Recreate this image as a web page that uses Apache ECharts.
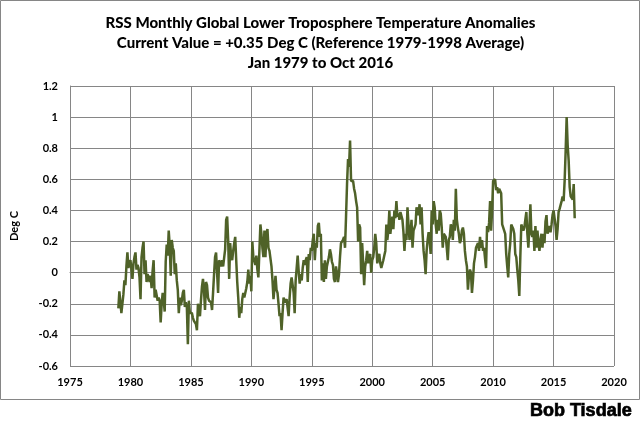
<!DOCTYPE html>
<html>
<head>
<meta charset="utf-8">
<script src="https://cdn.jsdelivr.net/npm/echarts@6/dist/echarts.min.js"></script>
<style>
html,body{margin:0;padding:0;background:#fff;}
#chart{width:641px;height:426px;}
</style>
</head>
<body>
<div id="chart"></div>
<script>
// Monthly RSS TLT anomalies (Deg C), Jan 1979 - Oct 2016
const v1979 = [-0.23, -0.12, -0.13, -0.26, -0.20, -0.14, -0.05, -0.08, 0.04, 0.13, 0.03, 0.06];
const v1980 = [0.08, 0.08, -0.04, 0.06, 0.10, 0.13, 0.02, 0.05, 0.03, -0.03, -0.17, 0.10];
const v1981 = [0.16, 0.20, -0.01, 0.08, -0.06, -0.01, -0.03, -0.06, -0.02, -0.10, 0.01, 0.08];
const v1982 = [-0.16, -0.11, -0.12, -0.18, -0.16, -0.18, -0.32, -0.20, -0.13, -0.18, -0.25, 0.07];
const v1983 = [0.18, 0.11, 0.27, 0.17, -0.02, 0.21, 0.16, 0.14, -0.01, 0.06, -0.05, -0.11];
const v1984 = [-0.26, -0.16, -0.21, -0.18, -0.13, -0.11, -0.22, -0.19, -0.22, -0.46, -0.18, -0.26];
const v1985 = [-0.25, -0.26, -0.29, -0.31, -0.32, -0.33, -0.37, -0.20, -0.21, -0.28, -0.18, -0.09];
const v1986 = [-0.04, -0.11, -0.24, -0.06, -0.08, -0.16, -0.18, -0.19, -0.19, -0.24, -0.13, -0.01];
const v1987 = [0.10, 0.13, 0.12, -0.13, 0.08, 0.06, 0.04, 0.08, 0.04, 0.03, 0.15, 0.34];
const v1988 = [0.36, 0.21, -0.04, 0.19, 0.10, 0.08, 0.14, 0.19, 0.23, 0.08, -0.06, -0.16];
const v1989 = [-0.29, -0.22, -0.26, -0.17, -0.13, -0.16, -0.15, -0.10, -0.06, 0.02, -0.07, -0.02];
const v1990 = [-0.12, 0.20, 0.10, 0.10, 0.05, 0.11, 0.02, -0.03, 0.14, 0.31, 0.25, 0.16];
const v1991 = [0.10, 0.27, 0.10, 0.25, 0.28, 0.16, 0.14, 0.14, 0.04, -0.05, -0.17, -0.16];
const v1992 = [-0.02, -0.11, -0.13, -0.20, -0.28, -0.26, -0.37, -0.26, -0.16, -0.19, -0.20, -0.17];
const v1993 = [-0.18, -0.28, -0.16, -0.07, -0.03, -0.02, -0.13, -0.26, -0.05, 0.03, 0.11, 0.01];
const v1994 = [-0.07, -0.01, -0.05, 0.03, 0.08, 0.05, 0.08, 0.10, -0.06, 0.12, 0.08, 0.16];
const v1995 = [0.14, 0.21, 0.25, 0.08, 0.19, 0.16, 0.30, 0.32, 0.23, 0.25, -0.05, 0.06];
const v1996 = [-0.06, 0.08, -0.04, 0.04, 0.03, 0.10, 0.15, 0.12, 0.07, 0.05, -0.04, -0.06];
const v1997 = [0.04, 0.00, -0.06, -0.01, 0.10, 0.19, 0.20, 0.21, 0.23, 0.16, 0.36, 0.57];
const v1998 = [0.73, 0.68, 0.85, 0.59, 0.60, 0.59, 0.54, 0.51, 0.46, 0.42, 0.20, 0.31];
const v1999 = [0.29, -0.01, 0.19, 0.06, -0.08, 0.04, 0.08, 0.14, 0.06, 0.10, 0.12, 0.00];
const v2000 = [0.08, 0.10, 0.16, 0.25, 0.19, 0.06, 0.10, 0.12, 0.06, 0.03, 0.04, 0.08];
const v2001 = [0.11, 0.14, 0.31, 0.21, 0.27, 0.40, 0.25, 0.31, 0.36, 0.28, 0.40, 0.35];
const v2002 = [0.46, 0.36, 0.38, 0.34, 0.39, 0.38, 0.34, 0.26, 0.14, 0.25, 0.21, 0.42];
const v2003 = [0.31, 0.21, 0.25, 0.34, 0.16, 0.27, 0.29, 0.31, 0.42, 0.43, 0.37, 0.44];
const v2004 = [0.31, 0.42, 0.25, 0.14, 0.08, -0.01, 0.14, 0.21, 0.26, 0.21, 0.12, 0.40];
const v2005 = [0.31, 0.46, 0.42, 0.31, 0.25, 0.34, 0.27, 0.40, 0.38, 0.29, 0.16, 0.25];
const v2006 = [0.25, 0.23, 0.16, 0.08, 0.21, 0.23, 0.31, 0.29, 0.21, 0.34, 0.27, 0.54];
const v2007 = [0.34, 0.29, 0.25, 0.19, 0.21, 0.27, 0.29, 0.25, 0.14, 0.08, 0.04, -0.11];
const v2008 = [-0.02, 0.02, 0.00, -0.13, -0.05, 0.06, 0.10, 0.16, 0.17, 0.19, 0.14, 0.23];
const v2009 = [0.16, 0.21, 0.14, 0.16, 0.09, 0.03, 0.30, 0.26, 0.32, 0.46, 0.27, 0.40];
const v2010 = [0.59, 0.58, 0.60, 0.53, 0.55, 0.51, 0.54, 0.54, 0.51, 0.31, 0.30, 0.27];
const v2011 = [0.25, 0.12, 0.04, -0.03, 0.12, 0.19, 0.31, 0.31, 0.28, 0.25, 0.12, 0.10];
const v2012 = [0.02, -0.05, -0.15, 0.10, 0.31, 0.29, 0.27, 0.29, 0.34, 0.39, 0.25, 0.16];
const v2013 = [0.29, 0.44, 0.25, 0.23, 0.27, 0.14, 0.30, 0.16, 0.27, 0.19, 0.14, 0.21];
const v2014 = [0.25, 0.16, 0.25, 0.19, 0.33, 0.37, 0.25, 0.26, 0.30, 0.26, 0.31, 0.37];
const v2015 = [0.40, 0.35, 0.30, 0.21, 0.28, 0.39, 0.41, 0.42, 0.46, 0.49, 0.46, 0.59];
const v2016 = [0.78, 1.00, 0.82, 0.72, 0.55, 0.49, 0.49, 0.47, 0.57, 0.35];

const startYear = 1979;
const titleLines = [
  'RSS Monthly Global Lower Troposphere Temperature Anomalies',
  'Current Value = +0.35 Deg C (Reference 1979-1998 Average)',
  'Jan 1979 to Oct 2016'
];
const yAxisName = 'Deg C';
const credit = 'Bob Tisdale';

const yearly = [v1979,v1980,v1981,v1982,v1983,v1984,v1985,v1986,v1987,v1988,v1989,
  v1990,v1991,v1992,v1993,v1994,v1995,v1996,v1997,v1998,v1999,v2000,v2001,v2002,
  v2003,v2004,v2005,v2006,v2007,v2008,v2009,v2010,v2011,v2012,v2013,v2014,v2015,v2016];
const monthly = [];
yearly.forEach((arr, yi) => arr.forEach((v, mi) => monthly.push([startYear + yi + mi / 12, v])));

const chart = echarts.init(document.getElementById('chart'), null, {renderer: 'canvas'});
const gridColor = '#868686';
chart.setOption({
  animation: false,
  backgroundColor: '#ffffff',
  title: {
    text: titleLines.join('\n'),
    left: 'center',
    top: 8,
    textStyle: {fontFamily: 'Lato', fontWeight: 900, fontSize: 15, lineHeight: 20, color: '#000'}
  },
  grid: {left: 70, right: 27, top: 86, bottom: 60},
  xAxis: {
    type: 'value', min: 1975, max: 2020, interval: 5,
    axisLine: {show: true, lineStyle: {color: gridColor, width: 1}},
    axisTick: {show: false},
    splitLine: {show: true, lineStyle: {color: gridColor, width: 1}},
    axisLabel: {color: '#000', fontFamily: 'Lato', fontWeight: 'bold', fontSize: 11, margin: 11,
      formatter: v => String(v)}
  },
  yAxis: {
    type: 'value', min: -0.6, max: 1.2, interval: 0.2,
    name: yAxisName, nameLocation: 'middle', nameGap: 50,
    nameTextStyle: {color: '#000', fontFamily: 'Lato', fontWeight: 'bold', fontSize: 11},
    axisLine: {show: true, lineStyle: {color: gridColor, width: 1}},
    axisTick: {show: false},
    splitLine: {show: true, lineStyle: {color: gridColor, width: 1}},
    axisLabel: {color: '#000', fontFamily: 'Lato', fontWeight: 'bold', fontSize: 11, margin: 12,
      formatter: v => String(Math.round(v * 10) / 10)}
  },
  graphic: [
    {type: 'rect', shape: {x: 0.5, y: 0.5, width: 639, height: 399},
     style: {fill: 'none', stroke: gridColor, lineWidth: 1}, silent: true},
    {type: 'text', right: 9, top: 402,
     style: {text: credit, fill: '#000', stroke: '#000', lineWidth: 0.7,
       font: 'bold 18px "Liberation Sans", Arial, sans-serif'}}
  ],
  series: [{
    type: 'line',
    data: monthly,
    showSymbol: false,
    symbol: 'none',
    lineStyle: {color: '#4F6228', width: 2.5},
    z: 5
  }]
});
</script>
</body>
</html>
